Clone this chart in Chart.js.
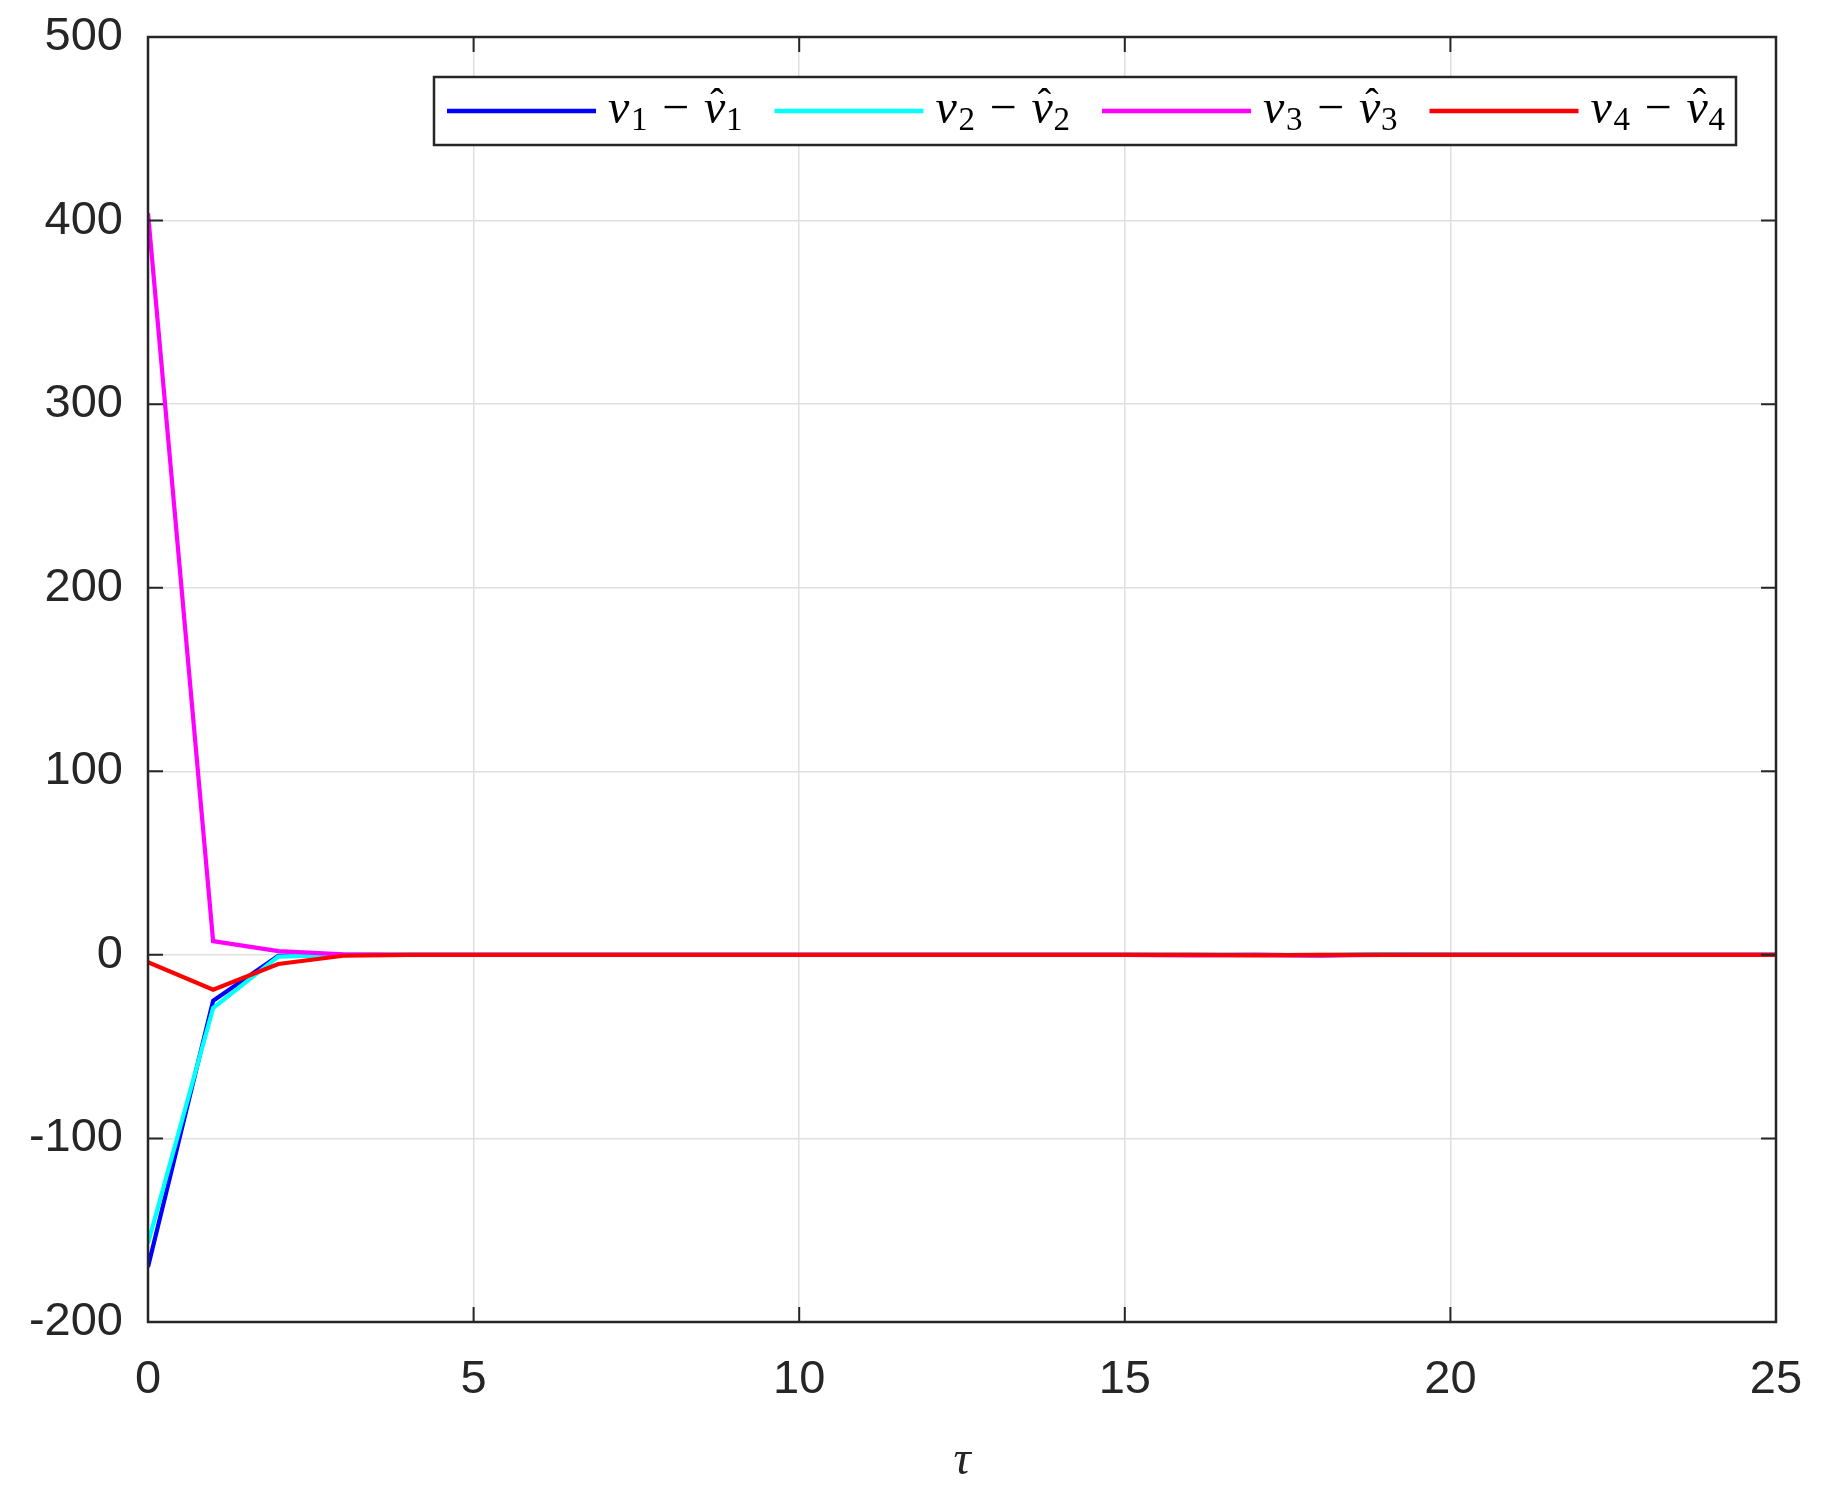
<!DOCTYPE html>
<html>
<head>
<meta charset="utf-8">
<script src="https://cdn.jsdelivr.net/npm/chart.js@4/dist/chart.umd.min.js"></script>
<style>
  html, body { margin: 0; padding: 0; background: #fff; }
  #wrap { width: 1834px; height: 1494px; }
</style>
</head>
<body>
<div id="wrap"><canvas id="errChart" width="1834" height="1494"></canvas></div>
<script>
// ── Data (tau in steps of 1) ────────────────────────────────────────────
const tau = [0,1,2,3,4,5,6,7,8,9,10,11,12,13,14,15,16,17,18,19,20,21,22,23,24,25];
const err1 = [-170,-25,-0.5,0,0,0,0,0,0,0,0,0,0,0,0,0,0,0,-0.3,0.2,0,0,0,0,0,0];
const err2 = [-157,-29,-1,0,0,0,0,0,0,0,0,0,0,0,0,0,0,0,0,0.4,0.3,0,0,0,0,0];
const err3 = [404,7.5,2,0.3,0,0,0,0,0,0,0,0,0,0,0,0,-0.3,0,-0.3,0,0,0,0,0,0,0];
const err4 = [-4,-19,-5,-0.5,0,0,0,0,0,0,0,0,0,0,0,0,0,-0.3,0,0,0,0,0,0,0,0];

const xTicks = [0,5,10,15,20,25];
const yTicks = [-200,-100,0,100,200,300,400,500];

const seriesIdx = ['1','2','3','4'];
const seriesColors = ['#0000ff','#00ffff','#ff00ff','#ff0000'];

const axisColor = '#262626';
const gridColor = '#e0e0e0';

function pts(arr) {
    return tau.map((t, i) => ({ x: t, y: arr[i] }));
}

// ── Box, inward ticks and in-plot legend (MATLAB style) ─────────────────
const matlabFrame = {
    id: 'matlabFrame',
    afterDraw(chart) {
        const { ctx, chartArea: a, scales } = chart;
        ctx.save();
        ctx.strokeStyle = axisColor;
        ctx.lineWidth = 2;
        const tl = 15;
        ctx.beginPath();
        xTicks.forEach(v => {
            const px = scales.x.getPixelForValue(v);
            ctx.moveTo(px, a.bottom); ctx.lineTo(px, a.bottom - tl);
            ctx.moveTo(px, a.top); ctx.lineTo(px, a.top + tl);
        });
        yTicks.forEach(v => {
            const py = scales.y.getPixelForValue(v);
            ctx.moveTo(a.left, py); ctx.lineTo(a.left + tl, py);
            ctx.moveTo(a.right, py); ctx.lineTo(a.right - tl, py);
        });
        ctx.stroke();
        ctx.lineWidth = 2.5;
        ctx.strokeRect(a.left, a.top, a.right - a.left, a.bottom - a.top);

        // legend box
        const lx = 434, ly = 77, lw = 1302, lh = 68;
        ctx.fillStyle = '#fff';
        ctx.fillRect(lx, ly, lw, lh);
        ctx.lineWidth = 2.5;
        ctx.strokeRect(lx, ly, lw, lh);
        const midY = ly + lh / 2;
        const step = 327.5;
        // legend in dataset index order (not draw order)
        [0, 1, 2, 3].forEach(i => {
            const ds = chart.data.datasets[i];
            const x0 = lx + 13 + i * step;
            ctx.strokeStyle = ds.borderColor;
            ctx.lineWidth = 4.5;
            ctx.beginPath();
            ctx.moveTo(x0, midY); ctx.lineTo(x0 + 149, midY);
            ctx.stroke();
            drawMathLabel(ctx, x0 + 161, midY + 12, seriesIdx[i]);
        });
        ctx.restore();
    }
};

// v_k - \hat v_k
function drawMathLabel(ctx, x, base, k) {
    ctx.fillStyle = '#000';
    ctx.textBaseline = 'alphabetic';
    ctx.textAlign = 'left';
    const vFont = 'italic 48px "Liberation Serif"';
    const subFont = '33px "Liberation Serif"';
    ctx.font = vFont;
    ctx.fillText('v', x, base);
    ctx.font = subFont;
    ctx.fillText(k, x + 23, base + 7);
    ctx.font = '48px "Liberation Serif"';
    ctx.fillText('\u2212', x + 54, base);
    ctx.font = vFont;
    ctx.fillText('v', x + 96, base);
    ctx.font = '40px "Liberation Serif"';
    ctx.textAlign = 'center';
    ctx.fillText('\u02c6', x + 109, base - 7);
    ctx.textAlign = 'left';
    ctx.font = subFont;
    ctx.fillText(k, x + 118, base + 7);
}

// MATLAB draws later series on top -> lower "order" for later series
const datasets = [err1, err2, err3, err4].map((arr, i) => ({
    label: 'v' + seriesIdx[i],
    data: pts(arr),
    borderColor: seriesColors[i],
    backgroundColor: 'transparent',
    borderWidth: 4.2,
    pointRadius: 0,
    tension: 0,
    order: 3 - i
}));

const ctx = document.getElementById('errChart').getContext('2d');
window.errChart = new Chart(ctx, {
    type: 'line',
    data: { datasets },
    options: {
        responsive: false,
        animation: false,
        devicePixelRatio: 1,
        layout: { padding: { left: 0, top: 37, right: 58, bottom: 0 } },
        plugins: {
            legend: { display: false },
            tooltip: { enabled: false }
        },
        scales: {
            x: {
                type: 'linear',
                min: 0, max: 25,
                afterFit(scale) {
                    scale.height = 172;
                    scale.paddingLeft = 0; scale.paddingRight = 0;
                },
                afterBuildTicks(scale) { scale.ticks = xTicks.map(v => ({ value: v })); },
                grid: { color: gridColor, lineWidth: 1.5, drawTicks: false },
                border: { display: false },
                ticks: {
                    color: axisColor, padding: 30, maxRotation: 0,
                    font: { family: '"Liberation Sans"', size: 47 }
                },
                title: {
                    display: true, text: '\u03c4', color: axisColor,
                    font: { family: '"Liberation Serif"', style: 'italic', size: 48 },
                    padding: { top: 2 }
                }
            },
            y: {
                min: -200, max: 500,
                afterFit(scale) {
                    scale.width = 148;
                    scale.paddingTop = 0; scale.paddingBottom = 0;
                },
                afterBuildTicks(scale) { scale.ticks = yTicks.map(v => ({ value: v })); },
                grid: { color: gridColor, lineWidth: 1.5, drawTicks: false },
                border: { display: false },
                ticks: {
                    color: axisColor, padding: 25,
                    font: { family: '"Liberation Sans"', size: 47 }
                }
            }
        }
    },
    plugins: [matlabFrame]
});
</script>
</body>
</html>
